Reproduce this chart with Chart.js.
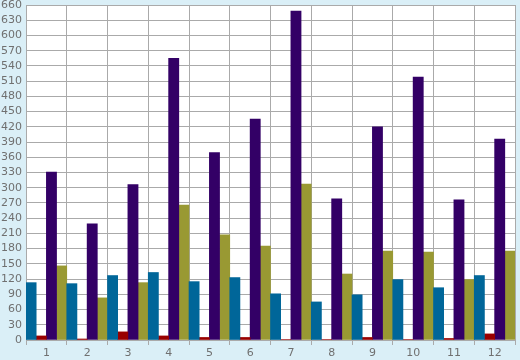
<!DOCTYPE html>
<html>
<head>
<meta charset="utf-8">
<script src="https://cdn.jsdelivr.net/npm/chart.js@4/dist/chart.umd.min.js"></script>
<style>
  html, body { margin: 0; padding: 0; background: #daeff7; }
  #wrap { width: 520px; height: 360px; position: relative; }
</style>
</head>
<body>
<div id="wrap"><canvas id="c" width="520" height="360"></canvas></div>
<script>
const categories = ['1','2','3','4','5','6','7','8','9','10','11','12'];
const seriesBlue   = [113, 111, 127, 133, 115, 123, 91, 75, 89, 119, 103, 127];
const seriesRed    = [8, 2, 16, 8, 5, 5, 1, 1, 5, 1, 3, 12];
const seriesPurple = [331, 229, 306, 555, 369, 435, 648, 278, 420, 518, 276, 396];
const seriesOlive  = [146, 83, 113, 266, 207, 185, 307, 130, 175, 173, 119, 175];
const yMin = 0, yMax = 660, yStep = 30;

const bgPlugin = {
  id: 'bg',
  beforeDraw(chart) {
    const ctx = chart.ctx, a = chart.chartArea;
    ctx.save();
    ctx.fillStyle = '#daeff7';
    ctx.fillRect(0, 0, chart.width, chart.height);
    ctx.fillStyle = '#ffffff';
    ctx.fillRect(a.left, a.top, a.right - a.left, a.bottom - a.top);
    ctx.restore();
  }
};

const font = { family: 'DejaVu Sans', size: 11 };
new Chart(document.getElementById('c'), {
  type: 'bar',
  data: {
    labels: categories,
    datasets: [
      { data: seriesBlue, backgroundColor: '#006699' },
      { data: seriesRed, backgroundColor: '#990000' },
      { data: seriesPurple, backgroundColor: '#330066' },
      { data: seriesOlive, backgroundColor: '#999933' }
    ]
  },
  options: {
    responsive: false,
    animation: false,
    devicePixelRatio: 1,
    layout: { padding: { top: 5, right: 5, left: 0, bottom: 0 } },
    plugins: { legend: { display: false }, tooltip: { enabled: false } },
    datasets: { bar: { categoryPercentage: 1, barPercentage: 1, borderWidth: 0 } },
    scales: {
      x: {
        grid: { color: '#aaaaaa', lineWidth: 1, offset: true, drawTicks: true, tickLength: 5 },
        border: { color: '#aaaaaa' },
        ticks: { color: '#707070', font: font, padding: 2, maxRotation: 0, autoSkip: false },
        afterFit(s) { s.height = 20; s.paddingLeft = 0; s.paddingRight = 0; }
      },
      y: {
        min: yMin, max: yMax,
        grid: { color: '#aaaaaa', lineWidth: 1, drawTicks: false },
        border: { color: '#aaaaaa' },
        ticks: { stepSize: yStep, color: '#707070', font: font, padding: 4, autoSkip: false },
        afterFit(s) { s.width = 26; s.paddingTop = 0; s.paddingBottom = 0; }
      }
    }
  },
  plugins: [bgPlugin]
});
</script>
</body>
</html>
